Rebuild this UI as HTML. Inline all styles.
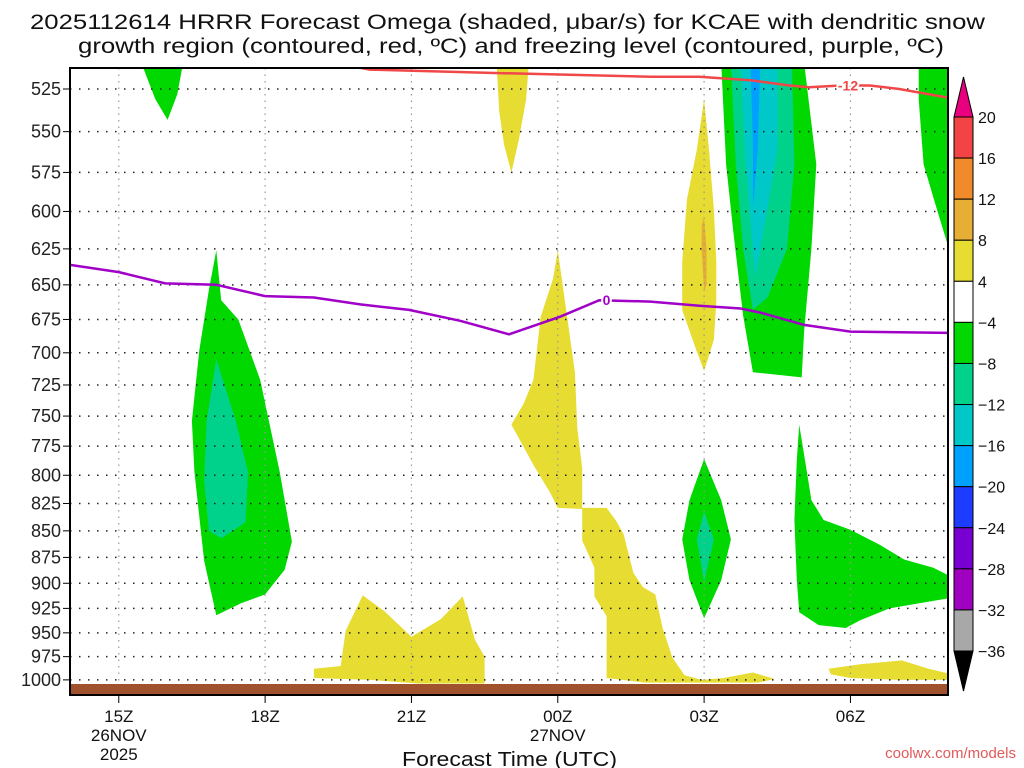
<!DOCTYPE html>
<html><head><meta charset="utf-8"><style>
body{margin:0;background:#fff;}
svg{display:block;font-family:"Liberation Sans","DejaVu Sans",sans-serif;}
</style></head><body>
<svg id="chart" width="1024" height="768" viewBox="0 0 1024 768" xmlns="http://www.w3.org/2000/svg">
<text x="30" y="29" font-size="21" fill="#111" textLength="955" lengthAdjust="spacingAndGlyphs">2025112614 HRRR Forecast Omega (shaded, μbar/s) for KCAE with dendritic snow</text>
<text x="78" y="53" font-size="21" fill="#111" textLength="866" lengthAdjust="spacingAndGlyphs">growth region (contoured, red, ºC) and freezing level (contoured, purple, ºC)</text>
<g id="plot"></g>
<g id="axes"></g>
<g id="cbar"></g>
<text x="402" y="766" font-size="20" fill="#111" textLength="215" lengthAdjust="spacingAndGlyphs">Forecast Time (UTC)</text>
<text x="1016" y="758" text-anchor="end" font-size="15" fill="#e05a5a">coolwx.com/models</text>
</svg>
<script>
const yTicks=[525,550,575,600,625,650,675,700,725,750,775,800,825,850,875,900,925,950,975,1000];
const xTickHours=[15,18,21,24,27,30];
const xTickLabels=[["15Z","26NOV","2025"],["18Z"],["21Z"],["00Z","27NOV"],["03Z"],["06Z"]];
const cbarLevels=[20,16,12,8,4,-4,-8,-12,-16,-20,-24,-28,-32,-36];
const cbarColors=["#e8007e","#f24444","#f08a2a","#e6ae35","#e6dc32","#ffffff","#00d800","#00d28c","#00c8c8","#00a0ff","#1e3cff","#7800d2","#a000c0","#a8a8a8","#000000"];
const greenTL=[[15.5,513],[16.3,513],[16.2,528],[16.0,543],[15.75,531],[15.6,520]];
const green17=[[17.0,626],[17.1,661],[17.45,675],[17.9,721],[18.3,797],[18.55,860],[18.4,887],[18.0,911],[17.5,920],[17.0,932],[16.75,878],[16.55,797],[16.5,754],[16.65,698],[16.85,653]];
const teal17=[[17.0,705],[17.4,754],[17.65,797],[17.6,842],[17.1,857],[16.85,850],[16.75,805],[16.8,754]];
const yellow23=[[22.75,513],[23.4,513],[23.35,531],[23.2,555],[23.05,575],[22.9,558],[22.8,538]];
const yellowDiag=[[24.0,626],[24.2,675],[24.35,715],[24.4,760],[24.5,794],[24.5,829],[25.0,829],[25.2,841],[25.35,853],[25.55,890],[25.75,904],[26.0,911],[26.15,945],[26.35,976],[26.6,995],[26.95,1000],[27.4,998],[28.0,992],[28.45,999],[28.1,1003],[25.8,1003],[25.0,998],[25.0,933],[24.75,913],[24.75,885],[24.5,859],[24.5,830],[24.0,829],[23.85,816],[23.5,791],[23.05,757],[23.3,740],[23.5,721],[23.65,673],[23.9,646]];
const yellow03=[[27.0,531],[27.1,561],[27.2,599],[27.25,634],[27.25,662],[27.2,690],[27.0,714],[26.8,694],[26.55,668],[26.55,634],[26.65,592],[26.85,561]];
const orange03=[[27.0,604],[27.05,626],[27.05,650],[27.0,654],[26.95,626],[26.95,609]];
const green03=[[27.0,786],[27.35,822],[27.55,858],[27.35,897],[27.0,935],[26.7,897],[26.55,858],[26.7,822]];
const teal03=[[27.0,832],[27.2,858],[27.0,899],[26.85,858]];
const greenR=[[27.35,510],[29.05,510],[29.3,570],[29.2,625],[29.05,684],[29.0,719],[28.0,715],[27.8,672],[27.6,614],[27.45,570]];
const green2R=[[27.55,510],[28.8,510],[28.85,570],[28.7,625],[28.3,659],[28.0,668],[27.8,625],[27.65,570]];
const tealR=[[27.75,510],[28.5,510],[28.5,561],[28.25,607],[28.05,645],[27.85,570]];
const blueR=[[27.95,510],[28.15,510],[28.1,561],[28.0,598],[28.0,556]];
const greenTR=[[31.4,510],[32,510],[32,623],[31.7,591],[31.5,570],[31.4,531]];
const greenBR=[[28.95,757],[29.1,795],[29.2,822],[29.45,840],[30.0,849],[30.6,863],[31.1,877],[31.7,885],[32,892],[32,915],[31.4,920],[30.8,925],[30.2,937],[29.9,945],[29.35,942],[28.95,929],[28.9,897],[28.85,840],[28.9,787]];
const yellowBR=[[29.55,988],[30.2,983],[31.05,979],[31.6,988],[32,993],[32,1000],[31.0,1000],[30.0,998],[29.6,994]];
const yellow21=[[19.0,988],[19.55,985],[19.65,948],[20.0,912],[20.45,928],[21.0,954],[21.6,936],[22.05,913],[22.3,957],[22.5,975],[22.5,1004],[21.15,1004],[20.15,1000],[19.0,998]];
const redLine=[[19.55,511],[20.15,514],[22.8,516],[25.9,518],[26.9,518],[27.95,520],[28.75,523],[29.15,524],[29.8,523],[30.4,523],[31.0,525],[32,530]];
const purpleLine=[[14,636],[15.0,641],[15.95,649],[17.0,650],[18.0,658],[19.0,659],[19.95,664],[20.95,668],[22.0,676],[23.0,686],[24.05,673],[24.85,661],[25.9,662],[26.9,665],[27.75,667],[28.15,670],[29.05,679],[30.0,684],[32,685]];

const X0=70,X1=948,Y0=68,Y1=695,H0=14,H1=32;
const xs=h=>X0+(h-H0)*(X1-X0)/(H1-H0);
const ys=p=>89+917*Math.log(p/525);
const NS="http://www.w3.org/2000/svg";
function mk(tag,parent,attrs){const e=document.createElementNS(NS,tag);for(const k in attrs)e.setAttribute(k,attrs[k]);parent.appendChild(e);return e;}
const plotG=document.getElementById('plot'),axesG=document.getElementById('axes'),cbG=document.getElementById('cbar');
const defs=mk('defs',plotG,{});const cp=mk('clipPath',defs,{id:'clip'});mk('rect',cp,{x:X0,y:Y0,width:X1-X0,height:Y1-Y0});
const g=mk('g',plotG,{'clip-path':'url(#clip)'});
const shapes=[[greenTL,6,'green-region-tl'],[green17,6,'green-region-17z'],[teal17,7,'teal-region-17z'],[yellow23,4,'yellow-region-23z'],[yellowDiag,4,'yellow-region-diagonal'],[yellow03,4,'yellow-region-03z'],[orange03,3,'orange-region-03z'],[green03,6,'green-region-03z'],[teal03,7,'teal-region-03z'],[greenR,6,'green-region-04z'],[green2R,7,'green2-region-04z'],[tealR,8,'teal-region-04z'],[blueR,9,'blue-region-04z'],[greenTR,6,'green-region-tr'],[greenBR,6,'green-region-br'],[yellowBR,4,'yellow-region-br'],[yellow21,4,'yellow-region-21z']];
shapes.forEach(s=>{const el=mk('polygon',g,{points:s[0].map(d=>xs(d[0]).toFixed(1)+','+ys(d[1]).toFixed(1)).join(' '),fill:cbarColors[s[1]]});

});
yTicks.forEach(p=>{const l=mk('line',g,{x1:X0,x2:X1,y1:ys(p),y2:ys(p),stroke:'#222','stroke-width':1.5,'stroke-dasharray':'1.5 7.5'});

});
xTickHours.forEach(h=>{const l=mk('line',g,{x1:xs(h),x2:xs(h),y1:Y0,y2:Y1,stroke:'#999','stroke-width':1.2,'stroke-dasharray':'1.5 5'});

});
const ground=mk('rect',g,{x:X0,y:ys(1004.5),width:X1-X0,height:Y1-ys(1004.5),fill:'#a0522d'});


function line(arr,col,name){const el=mk('polyline',g,{points:arr.map(d=>xs(d[0]).toFixed(1)+','+ys(d[1]).toFixed(1)).join(' '),fill:'none',stroke:col,'stroke-width':2.5});

}
line(redLine,'#f04848','dgz-contour-minus12');
line(purpleLine,'#a000c8','freezing-level-contour');
const rl=mk('text',g,{x:xs(29.95),y:ys(523)+5,'text-anchor':'middle','font-size':14,'font-weight':'bold',fill:'#f04848',stroke:'#fff','stroke-width':4,'paint-order':'stroke'});rl.textContent='-12';


const pl=mk('text',g,{x:xs(25.0),y:ys(661)+5,'text-anchor':'middle','font-size':14,'font-weight':'bold',fill:'#a000c8',stroke:'#fff','stroke-width':4,'paint-order':'stroke'});pl.textContent='0';


mk('rect',axesG,{x:X0,y:Y0,width:X1-X0,height:Y1-Y0,fill:'none',stroke:'#000','stroke-width':2});
yTicks.forEach(p=>{mk('line',axesG,{x1:X0-7,x2:X0,y1:ys(p),y2:ys(p),stroke:'#000','stroke-width':1});
const t=mk('text',axesG,{x:X0-9,y:ys(p)+6,'text-anchor':'end','font-size':18,fill:'#222'});t.textContent=p;

});
xTickHours.forEach((h,i)=>{mk('line',axesG,{x1:xs(h),x2:xs(h),y1:Y1,y2:Y1+8,stroke:'#000','stroke-width':1});
xTickLabels[i].forEach((s,j)=>{const t=mk('text',axesG,{x:xs(h),y:Y1+27+j*19,'text-anchor':'middle','font-size':17,fill:'#111'});t.textContent=s;

});});
const CX=954,CW=19,CT=117,CB=651,seg=(CB-CT)/(cbarLevels.length-1);
const cbTop=mk('polygon',cbG,{points:`${CX},${CT} ${CX+CW},${CT} ${CX+CW/2},${CT-40}`,fill:cbarColors[0],stroke:'#000','stroke-width':1});


for(let i=0;i<cbarLevels.length-1;i++){const r=mk('rect',cbG,{x:CX,y:CT+i*seg,width:CW,height:seg,fill:cbarColors[i+1],stroke:'#000','stroke-width':1});

}
const cbBot=mk('polygon',cbG,{points:`${CX},${CB} ${CX+CW},${CB} ${CX+CW/2},${CB+40}`,fill:cbarColors[14],stroke:'#000','stroke-width':1});


cbarLevels.forEach((v,i)=>{const t=mk('text',cbG,{x:978,y:CT+i*seg+6,'font-size':16,fill:'#111'});t.textContent=v<0?'\u2212'+(-v):String(v);

});
</script>
</body></html>
